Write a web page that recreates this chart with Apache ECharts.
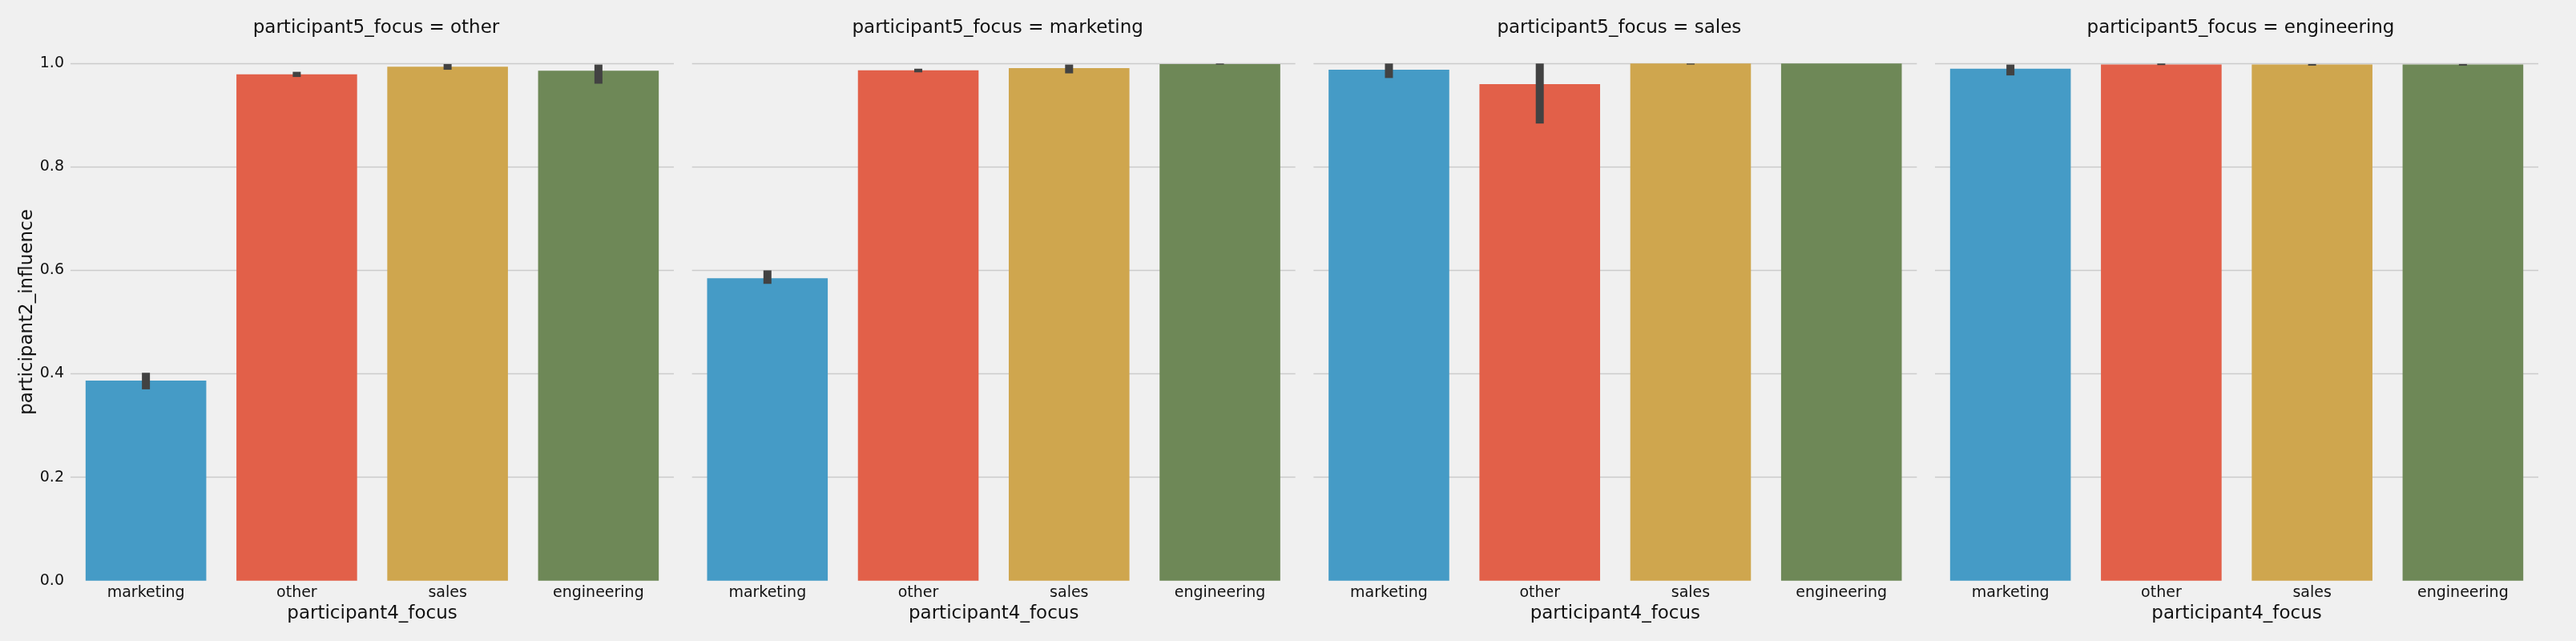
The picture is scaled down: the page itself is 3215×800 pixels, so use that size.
<!DOCTYPE html>
<html>
<head>
<meta charset="utf-8">
<script src="https://cdn.jsdelivr.net/npm/echarts@6/dist/echarts.min.js"></script>
<style>
html,body{margin:0;padding:0;background:#f0f0f0;}
#chart{width:3215px;height:800px;}
</style>
</head>
<body>
<div id="chart"></div>
<script>
// ---- data ----
const facets = ['other', 'marketing', 'sales', 'engineering'];
const categories = ['marketing', 'other', 'sales', 'engineering'];
const yTicks = [0.0, 0.2, 0.4, 0.6, 0.8, 1.0];

const meanOther       = [0.387, 0.979, 0.994, 0.986];
const meanMarketing   = [0.585, 0.987, 0.991, 0.999];
const meanSales       = [0.988, 0.960, 1.000, 1.000];
const meanEngineering = [0.990, 0.998, 0.998, 0.998];

const ciLowOther        = [0.370, 0.974, 0.988, 0.961];
const ciHighOther       = [0.402, 0.984, 0.999, 0.998];
const ciLowMarketing    = [0.574, 0.983, 0.981, 0.998];
const ciHighMarketing   = [0.600, 0.990, 0.998, 1.000];
const ciLowSales        = [0.972, 0.884, 0.998, 1.000];
const ciHighSales       = [1.000, 1.000, 1.000, 1.000];
const ciLowEngineering  = [0.977, 0.997, 0.996, 0.996];
const ciHighEngineering = [0.998, 1.000, 0.999, 0.999];

const means = [meanOther, meanMarketing, meanSales, meanEngineering];
const ciLows = [ciLowOther, ciLowMarketing, ciLowSales, ciLowEngineering];
const ciHighs = [ciHighOther, ciHighMarketing, ciHighSales, ciHighEngineering];

// ---- style ----
const palette = ['#459bc6', '#e26049', '#cfa64e', '#6e8857'];
const FONT = 'DejaVu Sans';
const TXT = '#111111';
const gridLeft0 = 88, gridStep = 775.67, gridW = 753, gridTop = 79.3, gridH = 645.4;

const grids = [], xAxes = [], yAxes = [], series = [], titles = [];
facets.forEach((f, i) => {
  const left = gridLeft0 + i * gridStep;
  grids.push({left: left, top: gridTop, width: gridW, height: gridH, containLabel: false});
  titles.push({
    text: 'participant5_focus = ' + f,
    left: left + gridW / 2, top: 19, textAlign: 'center',
    textStyle: {fontFamily: FONT, fontSize: 23, fontWeight: 'normal', color: TXT}
  });
  xAxes.push({
    type: 'category', gridIndex: i, data: categories,
    axisLine: {show: false}, axisTick: {show: false},
    axisLabel: {fontFamily: FONT, fontSize: 19, color: TXT, margin: 6},
    name: 'participant4_focus', nameLocation: 'middle', nameGap: 29,
    nameTextStyle: {fontFamily: FONT, fontSize: 23, color: TXT}
  });
  yAxes.push({
    type: 'value', gridIndex: i, min: 0, max: 1, interval: 0.2,
    axisLine: {show: false}, axisTick: {show: false},
    axisLabel: {show: i === 0, fontFamily: FONT, fontSize: 19, color: TXT, margin: 8,
      formatter: v => v.toFixed(1)},
    splitLine: {show: true, showMinLine: false, lineStyle: {color: '#cbcbcb', width: 1.4}}
  });
  series.push({
    type: 'bar', xAxisIndex: i, yAxisIndex: i, barWidth: '80%',
    data: means[i].map((v, k) => ({value: v, itemStyle: {color: palette[k]}})),
    z: 2
  });
  series.push({
    type: 'custom', xAxisIndex: i, yAxisIndex: i, z: 5,
    data: categories.map((c, k) => [k, ciLows[i][k], ciHighs[i][k]]),
    encode: {x: 0, y: [1, 2]},
    renderItem: function (params, api) {
      const top = api.coord([api.value(0), api.value(2)]);
      const bot = api.coord([api.value(0), api.value(1)]);
      return {
        type: 'rect',
        shape: {x: top[0] - 5, y: top[1], width: 10, height: bot[1] - top[1]},
        style: {fill: '#424242'}
      };
    }
  });
});

const chart = echarts.init(document.getElementById('chart'), null, {renderer: 'canvas'});
chart.setOption({
  backgroundColor: '#f0f0f0',
  animation: false,
  title: titles,
  grid: grids,
  xAxis: xAxes,
  yAxis: yAxes,
  series: series,
  graphic: [{
    type: 'text', x: 34, y: 389.5, rotation: Math.PI / 2,
    style: {text: 'participant2_influence', font: '23px "DejaVu Sans"', fill: TXT,
      textAlign: 'center', textVerticalAlign: 'middle'}
  }]
});
</script>
</body>
</html>
